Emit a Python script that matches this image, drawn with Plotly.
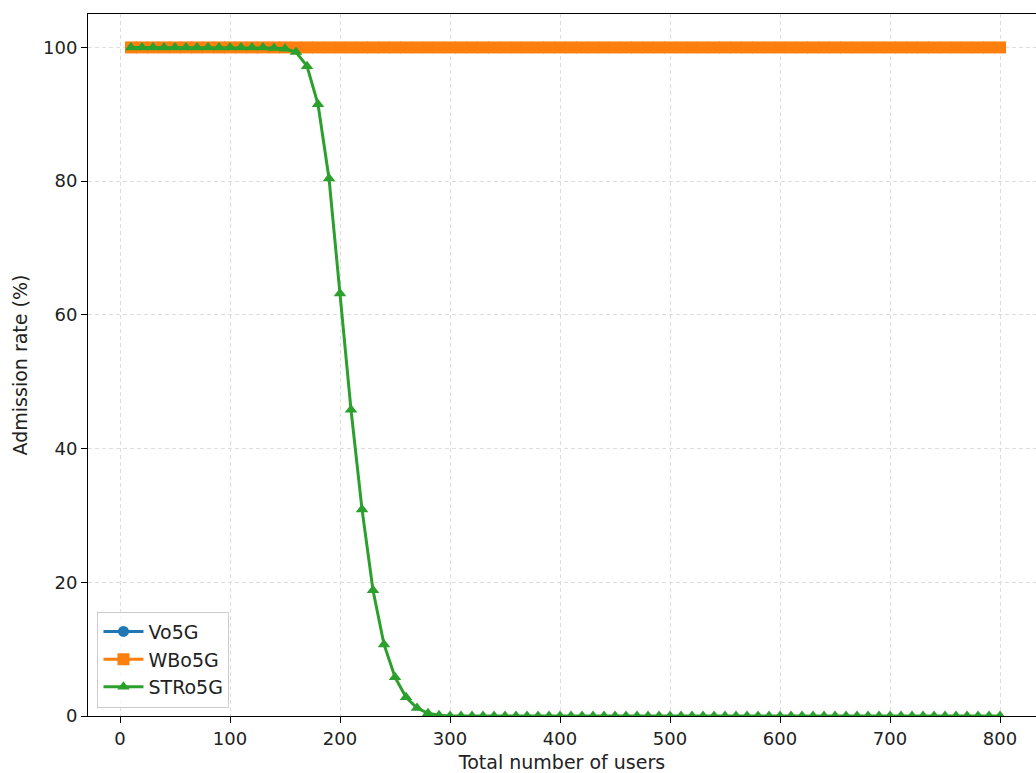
import plotly.graph_objects as go

users = list(range(10, 801, 10))
vo5g = [100.0] * len(users)
wbo5g = [100.0] * len(users)
stro5g_head = [100, 100, 100, 100, 100, 100, 100, 100, 100, 100, 100, 100, 100, 99.9, 99.8, 99.3,
               97.2, 91.5, 80.4, 63.2, 45.8, 30.9, 18.8, 10.7, 5.8, 2.8, 1.2, 0.4, 0.1]
stro5g = stro5g_head + [0.0] * (len(users) - len(stro5g_head))

font = "DejaVu Sans"
fig = go.Figure()
series = [
    ("Vo5G", vo5g, "#1f77b4", "circle", 11),
    ("WBo5G", wbo5g, "#ff7f0e", "square", 12),
    ("STRo5G", stro5g, "#2ca02c", "triangle-up", 11),
]
for name, ys, color, sym, sz in series:
    fig.add_trace(go.Scatter(
        x=users, y=ys, name=name, mode="lines+markers",
        line=dict(color=color, width=3),
        marker=dict(symbol=sym, size=sz, color=color),
    ))

axis_common = dict(
    showgrid=True, gridcolor="#dddddd", griddash="4px,3px", gridwidth=1,
    showline=True, linecolor="black", linewidth=1,
    ticks="outside", ticklen=6, tickcolor="black",
    tickfont=dict(family=font, size=18, color="#222"),
    zeroline=False,
)
fig.update_xaxes(range=[-29.1, 832.7], tickvals=list(range(0, 801, 100)),
                 mirror=True, title=dict(text="Total number of users",
                                         font=dict(family=font, size=19, color="#222"), standoff=8),
                 **axis_common)
fig.update_yaxes(range=[0, 105], tickvals=list(range(0, 101, 20)), mirror=False,
                 title=dict(text="Admission rate (%)", font=dict(family=font, size=19, color="#222"), standoff=10),
                 **axis_common)

fig.update_layout(
    width=1036, height=773,
    margin=dict(l=88, r=0, t=14, b=57),
    plot_bgcolor="white", paper_bgcolor="white",
    font=dict(family=font, size=18, color="#222"),
    legend=dict(x=0.01, y=0.012, xanchor="left", yanchor="bottom",
                bgcolor="rgba(255,255,255,0.8)", bordercolor="#cccccc", borderwidth=1,
                font=dict(family=font, size=19, color="#222"), itemwidth=40,
                tracegroupgap=0),
    showlegend=True,
)
fig.write_html("out.html")
